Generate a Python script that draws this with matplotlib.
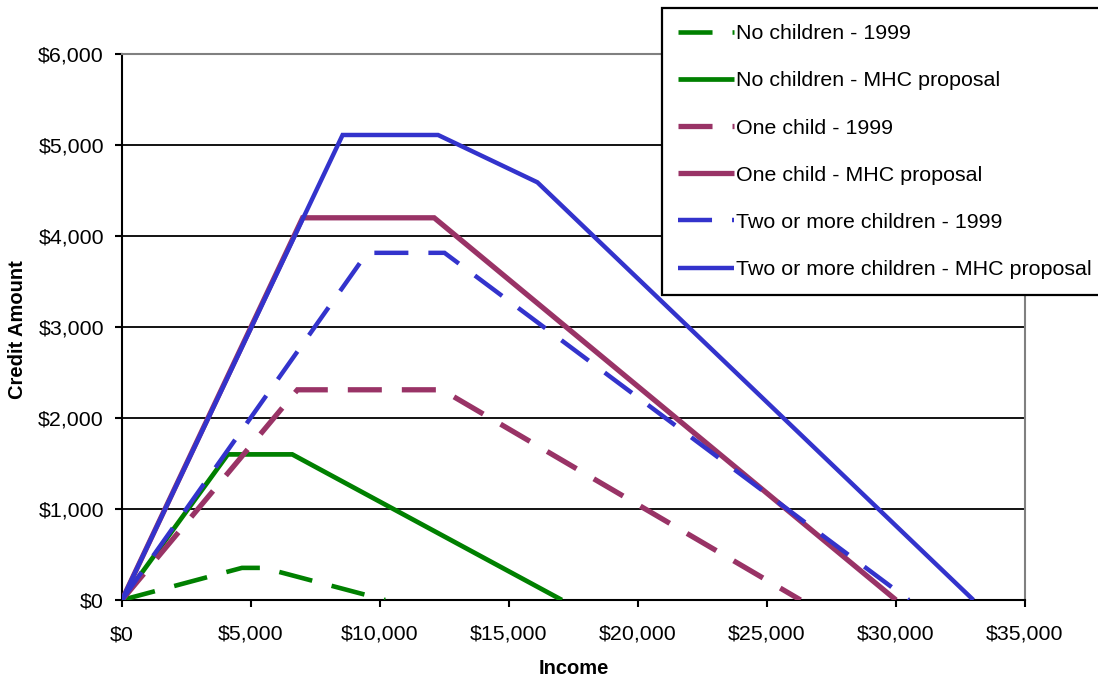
import matplotlib
matplotlib.use("Agg")
import matplotlib.pyplot as plt
from matplotlib.ticker import FuncFormatter, MultipleLocator

plt.rcParams['font.family'] = ['Liberation Sans', 'DejaVu Sans']
plt.rcParams['lines.scale_dashes'] = False

# ---- data ----
nc99_x = [0, 4650, 5500, 10200]
nc99_y = [0, 353, 353, 0]
ncM_x = [0, 4100, 6600, 17050]
ncM_y = [0, 1600, 1600, 0]
oc99_x = [0, 6800, 12400, 26300]
oc99_y = [0, 2310, 2310, 0]
ocM_x = [0, 7000, 12100, 30000]
ocM_y = [0, 4200, 4200, 0]
tc99_x = [0, 9500, 12500, 30500]
tc99_y = [0, 3815, 3815, 0]
tcM_x = [0, 8550, 12250, 16100, 33000]
tcM_y = [0, 5110, 5110, 4590, 0]

labels = ["No children - 1999", "No children - MHC proposal",
          "One child - 1999", "One child - MHC proposal",
          "Two or more children - 1999", "Two or more children - MHC proposal"]

green = "#008000"
magenta = "#993366"
blue = "#3333CC"

W, H = 1098, 681
fig = plt.figure(figsize=(W / 100, H / 100), dpi=100)
ax = fig.add_axes([122 / W, 1 - 600 / H, (1025 - 122) / W, (600 - 54) / H])

dash = (0, (24.5, 14.4))
series = [
    (nc99_x, nc99_y, green, 3.3, dash),
    (ncM_x, ncM_y, green, 3.4, None),
    (oc99_x, oc99_y, magenta, 3.8, dash),
    (ocM_x, ocM_y, magenta, 3.8, None),
    (tc99_x, tc99_y, blue, 3.2, dash),
    (tcM_x, tcM_y, blue, 3.2, None),
]
handles = []
for (xs, ys, c, lw, ls), lab in zip(series, labels):
    h, = ax.plot(xs, ys, color=c, lw=lw, linestyle=ls if ls else '-',
                 solid_joinstyle='miter', dash_joinstyle='miter',
                 solid_capstyle='butt', dash_capstyle='butt',
                 label=lab, zorder=3)
    handles.append(h)

ax.set_xlim(0, 35000)
ax.set_ylim(0, 6000)
ax.xaxis.set_major_locator(MultipleLocator(5000))
ax.yaxis.set_major_locator(MultipleLocator(1000))
fmt = FuncFormatter(lambda v, p: "${:,.0f}".format(v))
ax.xaxis.set_major_formatter(fmt)
ax.yaxis.set_major_formatter(fmt)

for yv in range(1000, 6000, 1000):
    ax.axhline(yv, color='black', lw=1.3, zorder=1)

ax.spines['left'].set_color('black')
ax.spines['bottom'].set_color('black')
ax.spines['top'].set_color('#808080')
ax.spines['right'].set_color('#808080')
for s in ax.spines.values():
    s.set_linewidth(1.5)

ax.tick_params(axis='both', direction='out', length=5, width=1.5,
               labelsize=15.4, color='black')
ax.tick_params(axis='y', pad=8)
ax.tick_params(axis='x', pad=13)

fig.text(18 / W, 1 - 330 / H, "Credit Amount", rotation=90, fontsize=14.5,
         fontweight='bold', ha='center', va='center')
fig.text(574 / W, 1 - 669 / H, "Income", fontsize=14.5,
         fontweight='bold', ha='center', va='center')

top = 1 - 8 / H
leg = fig.legend(handles=handles, labels=labels, loc='upper left',
                 bbox_to_anchor=(662 / W, top - 0.5, 470 / W, 0.5),
                 mode='expand', fontsize=15.4,
                 frameon=True, fancybox=False, framealpha=1,
                 edgecolor='black', handlelength=2.6, handletextpad=0.1,
                 borderpad=0.75, labelspacing=1.32, borderaxespad=0)
leg.get_frame().set_linewidth(1.6)

fig.savefig("out.png", dpi=100)
